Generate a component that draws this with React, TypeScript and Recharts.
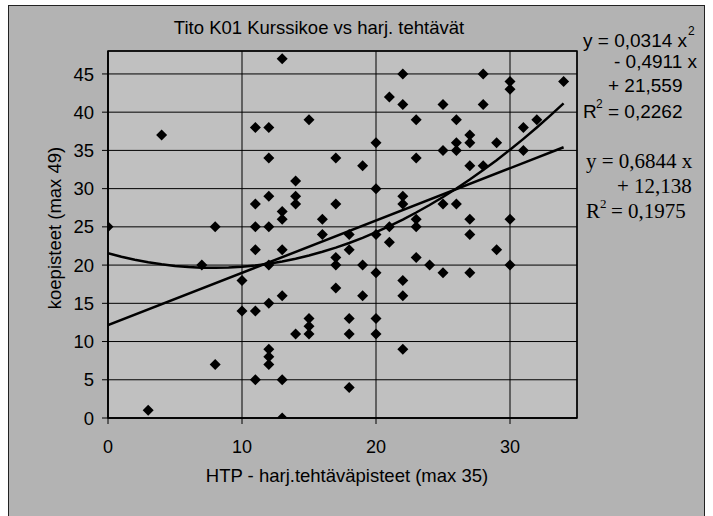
import React from "react";
import {
  ScatterChart,
  Scatter,
  XAxis,
  YAxis,
  CartesianGrid,
  ReferenceArea,
} from "recharts";

// harjoitustehtäväpisteet (x) and koepisteet (y), one entry per student
const htp = [
  0, 3, 4, 7, 8, 8, 10, 10,
  11, 11, 11, 11, 11, 11,
  12, 12, 12, 12, 12, 12, 12, 12, 12,
  13, 13, 13, 13, 13, 13, 13,
  14, 14, 14, 14,
  15, 15, 15, 15,
  16, 16,
  17, 17, 17, 17, 17,
  18, 18, 18, 18, 18,
  19, 19, 19,
  20, 20, 20, 20, 20, 20,
  21, 21, 21,
  22, 22, 22, 22, 22, 22, 22,
  23, 23, 23, 23, 23,
  24,
  25, 25, 25, 25,
  26, 26, 26, 26,
  27, 27, 27, 27, 27, 27,
  28, 28, 28,
  29, 29,
  30, 30, 30, 30,
  31, 31, 32, 34,
];
const koe = [
  25, 1, 37, 20, 25, 7, 18, 14,
  38, 28, 25, 22, 14, 5,
  38, 34, 29, 25, 20, 15, 9, 8, 7,
  47, 27, 26, 22, 16, 5, 0,
  31, 29, 28, 11,
  39, 13, 12, 11,
  26, 24,
  34, 28, 21, 20, 17,
  24, 22, 13, 11, 4,
  33, 20, 16,
  36, 30, 24, 19, 13, 11,
  42, 25, 23,
  45, 41, 29, 28, 18, 16, 9,
  39, 34, 26, 25, 21,
  20,
  41, 35, 28, 19,
  39, 36, 35, 28,
  37, 36, 33, 26, 24, 19,
  45, 41, 33,
  36, 22,
  44, 43, 26, 20,
  38, 35, 39, 44,
];

// trendline coefficients as printed on the chart
const linCoef = [0.6844, 12.138];
const polyCoef = [0.0314, -0.4911, 21.559];
const trendX = Array.from({ length: 35 }, (_, i) => i); // 0..34

const xTicks = [0, 10, 20, 30];
const yTicks = [0, 5, 10, 15, 20, 25, 30, 35, 40, 45];

const points = htp.map((x, i) => ({ x, y: koe[i] }));
const linData = [0, 34].map((x) => ({ x, y: linCoef[0] * x + linCoef[1] }));
const polyData = trendX.map((x) => ({
  x,
  y: polyCoef[0] * x * x + polyCoef[1] * x + polyCoef[2],
}));

const SANS = "'Liberation Sans', Arial, sans-serif";
const SERIF = "'Liberation Serif', 'Times New Roman', serif";

const Diamond = (props: any) => {
  const { cx, cy } = props;
  if (cx == null || cy == null) return <g />;
  const r = 5.5;
  return (
    <polygon
      points={`${cx},${cy - r} ${cx + r},${cy} ${cx},${cy + r} ${cx - r},${cy}`}
      fill="#000"
    />
  );
};

const NoDot = () => <g />;

export default function App() {
  return (
    <div style={{ position: "relative", width: 713, height: 516, overflow: "hidden" }}>
      <style>{`body{margin:0;overflow:hidden}`}</style>
      <div
        style={{
          position: "absolute",
          left: 8,
          top: 5,
          width: 697,
          height: 530,
          background: "#B3B3B3",
          border: "1.5px solid #222",
          boxSizing: "border-box",
        }}
      />
      <div style={{ position: "absolute", left: 0, top: 0 }}>
        <ScatterChart
          width={713}
          height={516}
          margin={{ top: 51, right: 136, bottom: 68, left: 48 }}
        >
          <CartesianGrid fill="#C0C0C0" stroke="#000" strokeWidth={1} />
          <XAxis
            type="number"
            dataKey="x"
            domain={[0, 35]}
            ticks={xTicks}
            height={30}
            tickSize={6}
            tickMargin={16}
            tick={{ fill: "#000", fontSize: 18, fontFamily: SANS }}
            tickLine={{ stroke: "#000" }}
            axisLine={{ stroke: "#000", strokeWidth: 1.5 }}
            allowDataOverflow
          />
          <YAxis
            type="number"
            dataKey="y"
            domain={[0, 48]}
            ticks={yTicks}
            width={60}
            tickSize={6}
            tickMargin={8}
            tick={{ fill: "#000", fontSize: 18.5, fontFamily: SANS }}
            tickLine={{ stroke: "#000" }}
            axisLine={{ stroke: "#000", strokeWidth: 1.5 }}
            allowDataOverflow
          />
          <ReferenceArea
            x1={0}
            x2={35}
            y1={0}
            y2={48}
            fill="none"
            stroke="#000"
            strokeWidth={1.5}
          />
          <Scatter data={points} shape={Diamond} isAnimationActive={false} />
          <Scatter
            data={linData}
            shape={NoDot}
            line={{ stroke: "#000", strokeWidth: 2.5 }}
            lineType="joint"
            isAnimationActive={false}
          />
          <Scatter
            data={polyData}
            shape={NoDot}
            line={{ stroke: "#000", strokeWidth: 2.5 }}
            lineType="joint"
            isAnimationActive={false}
          />
        </ScatterChart>
      </div>
      <svg
        width={713}
        height={516}
        style={{ position: "absolute", left: 0, top: 0, pointerEvents: "none" }}
      >
        <text x={319} y={34} textAnchor="middle" fontFamily={SANS} fontSize={18.5} fill="#000">
          Tito K01 Kurssikoe vs harj. tehtävät
        </text>
        <text x={347} y={482} textAnchor="middle" fontFamily={SANS} fontSize={18.5} fill="#000">
          HTP - harj.tehtäväpisteet (max 35)
        </text>
        <text
          transform="translate(61,228) rotate(-90)"
          textAnchor="middle"
          fontFamily={SANS}
          fontSize={18.5}
          fill="#000"
        >
          koepisteet (max 49)
        </text>
        <g fontFamily={SANS} fontSize={19} fill="#000">
          <text x={583} y={47}>y = 0,0314 x</text>
          <text x={688} y={35} fontSize={12}>2</text>
          <text x={614} y={68}>- 0,4911 x</text>
          <text x={608} y={92}>+ 21,559</text>
          <text x={583} y={118}>R</text>
          <text x={596} y={108} fontSize={12}>2</text>
          <text x={608} y={118}>= 0,2262</text>
        </g>
        <g fontFamily={SERIF} fontSize={21} fill="#000">
          <text x={586} y={168}>y = 0,6844 x</text>
          <text x={617} y={193}>+ 12,138</text>
          <text x={586} y={218}>R</text>
          <text x={600} y={208} fontSize={13}>2</text>
          <text x={611} y={218}>= 0,1975</text>
        </g>
      </svg>
    </div>
  );
}
